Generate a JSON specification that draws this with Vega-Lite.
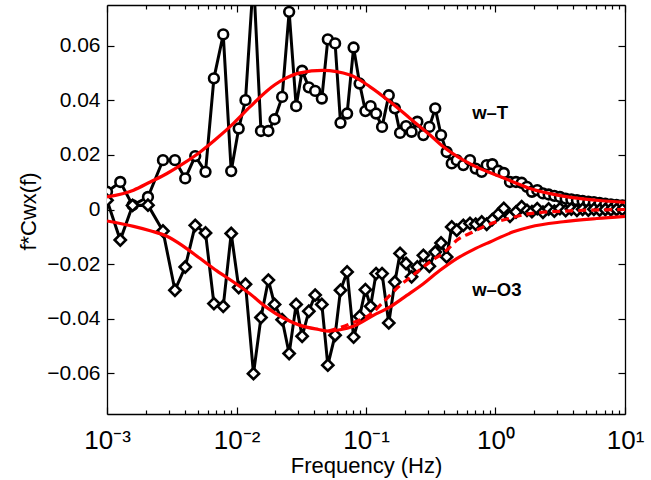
{
  "$schema": "https://vega.github.io/schema/vega-lite/v6.json",
  "width": 518,
  "height": 409,
  "autosize": {"type": "none"},
  "padding": {"left": 107, "top": 5, "right": 26, "bottom": 66},
  "background": "white",
  "config": {
    "view": {"stroke": null},
    "font": "Liberation Sans",
    "axis": {
      "domainColor": "black", "domainWidth": 1.3, "tickColor": "black", "tickWidth": 1.2,
      "labelColor": "black", "titleColor": "black", "grid": false,
      "labelFont": "Liberation Sans", "titleFont": "Liberation Sans", "titleFontWeight": "normal"
    }
  },
  "datasets": {
    "obs": [
      {"f":0.001,"T":0.0065,"O3":0.0034},
      {"f":0.001266,"T":0.0101,"O3":-0.0112},
      {"f":0.001576,"T":0.0016,"O3":0.0015},
      {"f":0.002072,"T":0.0046,"O3":0.0016},
      {"f":0.002705,"T":0.0181,"O3":-0.0079},
      {"f":0.003347,"T":0.0181,"O3":-0.0296},
      {"f":0.004019,"T":0.0114,"O3":-0.0211},
      {"f":0.0048,"T":0.0196,"O3":-0.0058},
      {"f":0.005764,"T":0.0138,"O3":-0.0086},
      {"f":0.006692,"T":0.0481,"O3":-0.0345},
      {"f":0.0079,"T":0.0642,"O3":-0.0355},
      {"f":0.009102,"T":0.0141,"O3":-0.0088},
      {"f":0.0104,"T":0.0297,"O3":-0.0286},
      {"f":0.011733,"T":0.0401,"O3":-0.0274},
      {"f":0.013527,"T":0.085,"O3":-0.0602},
      {"f":0.015453,"T":0.0288,"O3":-0.0396},
      {"f":0.017626,"T":0.0288,"O3":-0.0259},
      {"f":0.019677,"T":0.0331,"O3":-0.0348},
      {"f":0.02252,"T":0.0413,"O3":-0.0404},
      {"f":0.0255,"T":0.0725,"O3":-0.0528},
      {"f":0.028875,"T":0.0379,"O3":-0.0348},
      {"f":0.032125,"T":0.0509,"O3":-0.0465},
      {"f":0.036193,"T":0.0448,"O3":-0.0373},
      {"f":0.040494,"T":0.0435,"O3":-0.0314},
      {"f":0.045604,"T":0.0407,"O3":-0.0348},
      {"f":0.050719,"T":0.0624,"O3":-0.0571},
      {"f":0.057744,"T":0.0609,"O3":-0.0461},
      {"f":0.063563,"T":0.0318,"O3":-0.0296},
      {"f":0.071483,"T":0.0352,"O3":-0.0229},
      {"f":0.08022,"T":0.0594,"O3":-0.0468},
      {"f":0.089244,"T":0.0462,"O3":-0.0392},
      {"f":0.098946,"T":0.0361,"O3":-0.0294},
      {"f":0.10853,"T":0.0379,"O3":-0.0355},
      {"f":0.11963,"T":0.0352,"O3":-0.0235},
      {"f":0.13306,"T":0.0303,"O3":-0.0235},
      {"f":0.14994,"T":0.0419,"O3":-0.0416},
      {"f":0.16711,"T":0.0371,"O3":-0.0266},
      {"f":0.18323,"T":0.0281,"O3":-0.0161},
      {"f":0.20386,"T":0.0306,"O3":-0.0198},
      {"f":0.22484,"T":0.0285,"O3":-0.0247},
      {"f":0.24922,"T":0.0322,"O3":-0.0211},
      {"f":0.27723,"T":0.0273,"O3":-0.0168},
      {"f":0.30844,"T":0.0303,"O3":-0.0208},
      {"f":0.34253,"T":0.0371,"O3":-0.0156},
      {"f":0.37983,"T":0.0273,"O3":-0.0123},
      {"f":0.41953,"T":0.0211,"O3":-0.0174},
      {"f":0.4592,"T":0.0169,"O3":-0.0064},
      {"f":0.50188,"T":0.0181,"O3":-0.0076},
      {"f":0.56429,"T":0.0163,"O3":-0.0058},
      {"f":0.6355,"T":0.0181,"O3":-0.0051},
      {"f":0.70324,"T":0.0150,"O3":-0.0054},
      {"f":0.78248,"T":0.0138,"O3":-0.0046},
      {"f":0.85531,"T":0.0163,"O3":-0.0054},
      {"f":0.94472,"T":0.0166,"O3":-0.0037},
      {"f":1.051,"T":0.0142,"O3":-0.0017},
      {"f":1.1588,"T":0.0134,"O3":0.0004},
      {"f":1.2938,"T":0.0101,"O3":-0.0025},
      {"f":1.4395,"T":0.0101,"O3":-0.0009},
      {"f":1.5929,"T":0.0098,"O3":0.0010},
      {"f":1.7505,"T":0.0083,"O3":-0.0003},
      {"f":1.9118,"T":0.0065,"O3":-0.0008},
      {"f":2.1012,"T":0.0071,"O3":0.0003},
      {"f":2.3253,"T":0.0059,"O3":-0.0010},
      {"f":2.5733,"T":0.0055,"O3":0.0002},
      {"f":2.8477,"T":0.0050,"O3":-0.0006},
      {"f":3.1464,"T":0.0046,"O3":0.0003},
      {"f":3.4819,"T":0.0040,"O3":-0.0004},
      {"f":3.8524,"T":0.0037,"O3":0.0002},
      {"f":4.256,"T":0.0034,"O3":-0.0003},
      {"f":4.7097,"T":0.0031,"O3":0.0001},
      {"f":5.2117,"T":0.0029,"O3":-0.0002},
      {"f":5.7544,"T":0.0027,"O3":0.0001},
      {"f":6.368,"T":0.0024,"O3":-0.0002},
      {"f":7.0469,"T":0.0021,"O3":0.0},
      {"f":7.784,"T":0.0019,"O3":-0.0001},
      {"f":8.6135,"T":0.0017,"O3":0.0},
      {"f":9.5321,"T":0.0015,"O3":0.0}
    ],
    "fitT": [
      {"f":0.001,"v":0.0046},{"f":0.001604,"v":0.0071},{"f":0.002158,"v":0.0101},{"f":0.002904,"v":0.0132},
      {"f":0.003899,"v":0.0169},{"f":0.005246,"v":0.0211},{"f":0.007059,"v":0.0261},{"f":0.009482,"v":0.0316},
      {"f":0.012757,"v":0.0377},{"f":0.017165,"v":0.0435},{"f":0.023047,"v":0.0477},{"f":0.031007,"v":0.0501},
      {"f":0.0464,"v":0.0510},{"f":0.0754,"v":0.0493},{"f":0.10755,"v":0.0450},{"f":0.15346,"v":0.0395},
      {"f":0.21894,"v":0.0334},{"f":0.31235,"v":0.0273},{"f":0.39563,"v":0.0230},{"f":0.56429,"v":0.0181},
      {"f":0.75926,"v":0.0150},{"f":1.0216,"v":0.0126},{"f":1.3718,"v":0.0101},{"f":1.8457,"v":0.0077},
      {"f":3.3359,"v":0.0049},{"f":6.0395,"v":0.0034},{"f":10,"v":0.0026}
    ],
    "fitO3": [
      {"f":0.001,"v":-0.0042},{"f":0.001604,"v":-0.0062},{"f":0.002158,"v":-0.0078},{"f":0.002904,"v":-0.0098},
      {"f":0.003899,"v":-0.0135},{"f":0.005246,"v":-0.0180},{"f":0.007059,"v":-0.0225},{"f":0.009482,"v":-0.0266},
      {"f":0.012757,"v":-0.0310},{"f":0.017165,"v":-0.0360},{"f":0.023047,"v":-0.0398},{"f":0.031007,"v":-0.0425},
      {"f":0.043,"v":-0.0440},{"f":0.0514,"v":-0.0446},{"f":0.063125,"v":-0.0441},{"f":0.0799,"v":-0.0428},
      {"f":0.11404,"v":-0.0388},{"f":0.15346,"v":-0.0357},{"f":0.20641,"v":-0.0315},{"f":0.27723,"v":-0.0272},
      {"f":0.373,"v":-0.0223},{"f":0.50188,"v":-0.0180},{"f":0.67424,"v":-0.0147},{"f":0.90714,"v":-0.0119},
      {"f":1.3718,"v":-0.0082},{"f":1.8457,"v":-0.0064},{"f":3.3359,"v":-0.0045},{"f":6.0395,"v":-0.0033},
      {"f":10,"v":-0.0025}
    ],
    "fitO3b": [
      {"f":0.0514,"v":-0.0446},{"f":0.0754,"v":-0.0419},{"f":0.11404,"v":-0.0376},{"f":0.13624,"v":-0.0339},
      {"f":0.17783,"v":-0.0284},{"f":0.2393,"v":-0.0235},{"f":0.31235,"v":-0.0192},{"f":0.42025,"v":-0.0149},
      {"f":0.50188,"v":-0.0113},{"f":0.67424,"v":-0.0082},{"f":0.85531,"v":-0.0058},{"f":1.2938,"v":-0.0032},
      {"f":1.8457,"v":-0.0015},{"f":3.7563,"v":-0.0005},{"f":10,"v":0.0}
    ],
    "labels": [
      {"f":0.66,"v":0.0353,"label":"w–T"},
      {"f":0.66,"v":-0.0296,"label":"w–O3"}
    ]
  },
  "layer": [
    {
      "data": {"name": "obs"},
      "mark": {"type": "line", "color": "black", "strokeWidth": 3, "clip": true},
      "encoding": {
        "x": {"field": "f", "type": "quantitative",
              "scale": {"type": "log", "domain": [0.001, 10], "nice": false},
              "axis": {"orient": "bottom", "values": [0.001, 0.01, 0.1, 1, 10], "tickSize": -7,
                       "labelFontSize": 26, "labelPadding": 20, "labelFlush": false, "labelOverlap": false,
                       "labelExpr": "datum.value < 0.005 ? '10⁻³' : datum.value < 0.05 ? '10⁻²' : datum.value < 0.5 ? '10⁻¹' : datum.value < 5 ? '10⁰' : '10¹'",
                       "title": "Frequency (Hz)", "titleFontSize": 22, "titleX": 259, "titleY": 51,
                       "titleBaseline": "middle", "titleAlign": "center"}},
        "y": {"field": "T", "type": "quantitative",
              "scale": {"domain": [-0.075, 0.075], "nice": false, "zero": false},
              "axis": {"orient": "left", "values": [-0.06, -0.04, -0.02, 0, 0.02, 0.04, 0.06], "tickSize": -7,
                       "format": ".2~f", "labelFontSize": 21, "labelPadding": 14,
                       "title": "f*Cwx(f)", "titleFontSize": 22, "titleAngle": -90, "titleX": -79, "titleY": 206,
                       "titleBaseline": "middle", "titleAlign": "center"}}
      }
    },
    {
      "data": {"name": "obs"},
      "mark": {"type": "line", "color": "black", "strokeWidth": 3, "clip": true},
      "encoding": {
        "x": {"field": "f", "type": "quantitative",
              "scale": {"type": "log", "domain": [0.001, 10], "nice": false},
              "axis": {"orient": "top", "values": [0.001, 0.01, 0.1, 1, 10], "tickSize": -7, "labels": false, "title": null}},
        "y": {"field": "O3", "type": "quantitative",
              "scale": {"domain": [-0.075, 0.075], "nice": false, "zero": false},
              "axis": {"orient": "right", "values": [-0.06, -0.04, -0.02, 0, 0.02, 0.04, 0.06], "tickSize": -7, "labels": false, "title": null}}
      }
    },
    {
      "data": {"name": "obs"},
      "mark": {"type": "point", "shape": "circle", "filled": false, "fill": "white", "fillOpacity": 1, "stroke": "black", "strokeWidth": 2.6, "size": 95, "opacity": 1, "clip": true},
      "encoding": {
        "x": {"field": "f", "type": "quantitative",
              "scale": {"type": "log", "domain": [0.001, 10], "nice": false},
              "axis": {"orient": "bottom", "values": [0.002,0.003,0.004,0.005,0.006,0.007,0.008,0.009,0.02,0.03,0.04,0.05,0.06,0.07,0.08,0.09,0.2,0.3,0.4,0.5,0.6,0.7,0.8,0.9,2,3,4,5,6,7,8,9],
                       "tickSize": -4, "labels": false, "domain": false, "title": null}},
        "y": {"field": "T", "type": "quantitative",
              "scale": {"domain": [-0.075, 0.075], "nice": false, "zero": false}, "axis": null}
      }
    },
    {
      "data": {"name": "obs"},
      "mark": {"type": "point", "shape": "diamond", "filled": false, "fill": "white", "fillOpacity": 1, "stroke": "black", "strokeWidth": 2.6, "size": 125, "opacity": 1, "clip": true},
      "encoding": {
        "x": {"field": "f", "type": "quantitative",
              "scale": {"type": "log", "domain": [0.001, 10], "nice": false},
              "axis": {"orient": "top", "values": [0.002,0.003,0.004,0.005,0.006,0.007,0.008,0.009,0.02,0.03,0.04,0.05,0.06,0.07,0.08,0.09,0.2,0.3,0.4,0.5,0.6,0.7,0.8,0.9,2,3,4,5,6,7,8,9],
                       "tickSize": -4, "labels": false, "domain": false, "title": null}},
        "y": {"field": "O3", "type": "quantitative",
              "scale": {"domain": [-0.075, 0.075], "nice": false, "zero": false}, "axis": null}
      }
    },
    {
      "data": {"name": "fitT"},
      "mark": {"type": "line", "color": "#ff0000", "strokeWidth": 3.2, "interpolate": "monotone", "clip": true},
      "encoding": {
        "x": {"field": "f", "type": "quantitative", "scale": {"type": "log", "domain": [0.001, 10], "nice": false}, "axis": null},
        "y": {"field": "v", "type": "quantitative", "scale": {"domain": [-0.075, 0.075], "nice": false, "zero": false}, "axis": null}
      }
    },
    {
      "data": {"name": "fitO3"},
      "mark": {"type": "line", "color": "#ff0000", "strokeWidth": 3.2, "interpolate": "monotone", "clip": true},
      "encoding": {
        "x": {"field": "f", "type": "quantitative", "scale": {"type": "log", "domain": [0.001, 10], "nice": false}, "axis": null},
        "y": {"field": "v", "type": "quantitative", "scale": {"domain": [-0.075, 0.075], "nice": false, "zero": false}, "axis": null}
      }
    },
    {
      "data": {"name": "fitO3b"},
      "mark": {"type": "line", "color": "#ff0000", "strokeWidth": 3.2, "strokeDash": [8, 5], "interpolate": "monotone", "clip": true},
      "encoding": {
        "x": {"field": "f", "type": "quantitative", "scale": {"type": "log", "domain": [0.001, 10], "nice": false}, "axis": null},
        "y": {"field": "v", "type": "quantitative", "scale": {"domain": [-0.075, 0.075], "nice": false, "zero": false}, "axis": null}
      }
    },
    {
      "mark": {"type": "rule", "color": "#c9c92a", "strokeWidth": 1.6, "strokeDash": [1.7, 4.6]},
      "encoding": {
        "y": {"datum": 0, "type": "quantitative", "scale": {"domain": [-0.075, 0.075], "nice": false, "zero": false}, "axis": null}
      }
    },
    {
      "data": {"name": "labels"},
      "mark": {"type": "text", "align": "left", "baseline": "middle", "fontWeight": "bold", "fontSize": 18.5, "font": "Liberation Sans", "color": "black"},
      "encoding": {
        "x": {"field": "f", "type": "quantitative", "scale": {"type": "log", "domain": [0.001, 10], "nice": false}, "axis": null},
        "y": {"field": "v", "type": "quantitative", "scale": {"domain": [-0.075, 0.075], "nice": false, "zero": false}, "axis": null},
        "text": {"field": "label"}
      }
    }
  ],
  "resolve": {"axis": {"x": "independent", "y": "independent"}}
}
